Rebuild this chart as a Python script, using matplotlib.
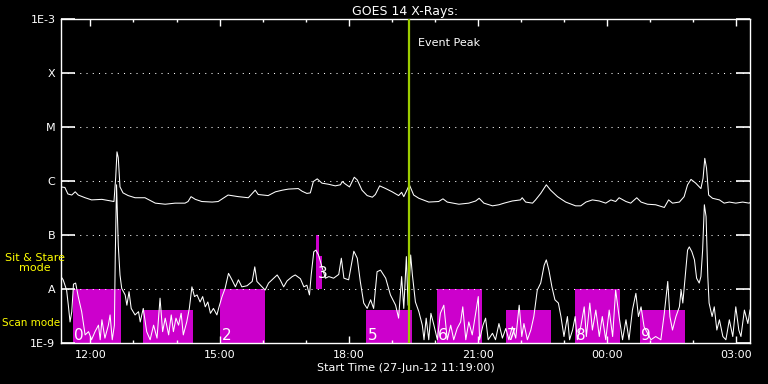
import numpy as np
import matplotlib
matplotlib.use("Agg")
from matplotlib import pyplot as plt
from matplotlib.ticker import FixedLocator, NullLocator

# hours since start (27-Jun-12 11:19:00) and log10 of flux (W/m^2)
long_t = [0, 0.09, 0.16, 0.25, 0.33, 0.40, 0.56, 0.71, 0.95, 1.09, 1.23, 1.27, 1.30, 1.33, 1.37,
          1.44, 1.56, 1.72, 1.95, 2.19, 2.42, 2.65, 2.88, 2.95, 3.02, 3.12, 3.27, 3.51, 3.65, 3.88,
          4.12, 4.35, 4.51, 4.58, 4.81, 4.98, 5.14, 5.28, 5.51, 5.60, 5.71, 5.79, 5.86, 5.95, 6.06,
          6.21, 6.37, 6.49, 6.53, 6.61, 6.70, 6.81, 6.88, 6.99, 7.11, 7.23, 7.30, 7.40, 7.54, 7.69,
          7.84, 7.91, 7.96, 8.02, 8.09, 8.19, 8.31, 8.54, 8.77, 8.87, 8.97, 9.24, 9.47, 9.63, 9.71,
          9.82, 10.02, 10.17, 10.29, 10.48, 10.67, 10.71, 10.79, 10.95, 11.02, 11.14, 11.27, 11.37,
          11.53, 11.72, 11.95, 12.07, 12.19, 12.34, 12.50, 12.65, 12.77, 12.88, 12.96, 13.12, 13.23,
          13.37, 13.47, 13.62, 13.81, 14.01, 14.11, 14.20, 14.36, 14.47, 14.55, 14.63, 14.74, 14.86,
          14.91, 14.95, 14.99, 15.04, 15.13, 15.29, 15.40, 15.52, 15.67, 15.83, 15.98, 16.0]
long_exp = [-6.11, -6.12, -6.24, -6.26, -6.20, -6.26, -6.31, -6.35, -6.34, -6.36, -6.38, -5.94, -5.46,
            -5.57, -6.11, -6.22, -6.27, -6.31, -6.31, -6.41, -6.43, -6.41, -6.41, -6.38, -6.29, -6.34,
            -6.38, -6.39, -6.38, -6.26, -6.29, -6.31, -6.17, -6.25, -6.27, -6.20, -6.17, -6.15, -6.14,
            -6.19, -6.23, -6.22, -6.01, -5.96, -6.04, -6.06, -6.09, -6.07, -6.01, -6.06, -6.11, -5.93,
            -5.98, -6.17, -6.27, -6.30, -6.25, -6.09, -6.14, -6.20, -6.27, -6.21, -6.29, -6.19, -6.07,
            -6.26, -6.32, -6.39, -6.38, -6.33, -6.39, -6.43, -6.41, -6.37, -6.32, -6.41, -6.46, -6.44,
            -6.41, -6.37, -6.35, -6.31, -6.39, -6.41, -6.35, -6.23, -6.07, -6.17, -6.29, -6.39, -6.46,
            -6.46, -6.39, -6.35, -6.37, -6.41, -6.35, -6.38, -6.31, -6.38, -6.41, -6.31, -6.39, -6.43,
            -6.44, -6.49, -6.35, -6.41, -6.39, -6.29, -6.07, -5.97, -6.04, -6.14, -5.95, -5.58, -5.76,
            -6.26, -6.32, -6.35, -6.41, -6.39, -6.41, -6.39, -6.41, -6.40]

short_t = [0, 0.05, 0.13, 0.17, 0.21, 0.25, 0.29, 0.34, 0.40, 0.48, 0.56, 0.64, 0.71, 0.79, 0.87,
           0.91, 0.95, 1.02, 1.10, 1.14, 1.19, 1.24, 1.26, 1.29, 1.33, 1.37, 1.41, 1.49, 1.53, 1.58,
           1.63, 1.72, 1.80, 1.84, 1.91, 1.99, 2.07, 2.15, 2.23, 2.30, 2.36, 2.42, 2.50, 2.56, 2.61,
           2.67, 2.73, 2.79, 2.84, 2.92, 2.98, 3.04, 3.10, 3.16, 3.23, 3.29, 3.35, 3.41, 3.47, 3.54,
           3.62, 3.67, 3.74, 3.81, 3.89, 3.97, 4.05, 4.12, 4.20, 4.32, 4.44, 4.50, 4.55, 4.67, 4.74,
           4.82, 4.94, 5.02, 5.09, 5.17, 5.25, 5.37, 5.44, 5.56, 5.64, 5.71, 5.77, 5.81, 5.87, 5.92,
           5.98, 6.06, 6.14, 6.22, 6.33, 6.45, 6.51, 6.57, 6.68, 6.80, 6.88, 6.95, 7.03, 7.11, 7.19,
           7.26, 7.34, 7.42, 7.54, 7.65, 7.77, 7.84, 7.91, 7.96, 8.02, 8.06, 8.12, 8.16, 8.23, 8.31,
           8.39, 8.43, 8.48, 8.54, 8.59, 8.66, 8.74, 8.81, 8.89, 8.97, 9.05, 9.12, 9.20, 9.28, 9.33,
           9.40, 9.47, 9.55, 9.63, 9.69, 9.72, 9.80, 9.86, 9.92, 10.02, 10.09, 10.17, 10.25, 10.33,
           10.40, 10.48, 10.56, 10.64, 10.70, 10.75, 10.83, 10.91, 10.98, 11.06, 11.14, 11.22, 11.27,
           11.33, 11.40, 11.47, 11.55, 11.61, 11.68, 11.76, 11.81, 11.88, 11.94, 11.99, 12.07, 12.15,
           12.20, 12.28, 12.34, 12.42, 12.50, 12.57, 12.65, 12.73, 12.81, 12.88, 12.96, 13.04, 13.12,
           13.19, 13.27, 13.35, 13.41, 13.47, 13.54, 13.62, 13.70, 13.81, 13.93, 14.01, 14.09, 14.14,
           14.20, 14.28, 14.36, 14.40, 14.44, 14.50, 14.55, 14.59, 14.65, 14.71, 14.76, 14.82, 14.86,
           14.90, 14.94, 14.98, 15.02, 15.05, 15.12, 15.17, 15.23, 15.29, 15.37, 15.44, 15.52, 15.60,
           15.67, 15.74, 15.79, 15.87, 15.95, 16.0]
short_exp = [-7.77, -7.83, -8.02, -8.30, -8.61, -8.42, -7.91, -7.89, -8.14, -8.42, -8.85, -8.79, -8.94,
             -8.79, -8.67, -8.94, -8.57, -8.91, -8.67, -8.48, -8.94, -8.67, -7.40, -6.07, -7.19, -7.74,
             -7.99, -8.11, -8.30, -8.05, -8.36, -8.48, -8.42, -8.61, -8.36, -8.79, -8.94, -8.67, -8.91,
             -8.17, -8.79, -8.54, -8.85, -8.48, -8.79, -8.54, -8.67, -8.45, -8.85, -8.61, -8.36, -7.96,
             -8.14, -8.11, -8.24, -8.14, -8.33, -8.24, -8.45, -8.36, -8.48, -8.33, -8.14, -7.99, -7.71,
             -7.83, -7.96, -7.83, -7.96, -7.94, -7.86, -7.59, -7.86, -7.96, -8.02, -7.89, -7.80, -7.74,
             -7.83, -7.96, -7.85, -7.77, -7.74, -7.81, -7.96, -7.93, -8.11, -7.74, -7.31, -7.28, -7.37,
             -7.59, -7.80, -7.77, -7.80, -7.73, -7.43, -7.80, -7.83, -7.30, -7.43, -7.86, -8.26, -8.36,
             -8.20, -8.36, -7.68, -7.65, -7.80, -8.11, -8.30, -8.54, -7.77, -8.36, -7.40, -8.30, -7.37,
             -7.74, -8.24, -8.42, -8.67, -8.94, -8.54, -8.94, -8.45, -8.67, -8.94, -8.45, -8.30, -8.94,
             -8.67, -8.94, -8.73, -8.61, -8.33, -8.94, -8.61, -8.85, -8.45, -8.14, -8.94, -8.67, -8.54,
             -8.94, -8.82, -8.94, -8.64, -8.91, -8.73, -8.94, -8.70, -8.91, -8.30, -8.88, -8.64, -8.94,
             -8.76, -8.51, -8.02, -7.89, -7.56, -7.46, -7.65, -7.96, -8.20, -8.26, -8.51, -8.88, -8.51,
             -8.94, -8.76, -8.51, -8.94, -8.70, -8.33, -8.88, -8.26, -8.76, -8.39, -8.88, -8.51, -8.94,
             -8.39, -8.88, -8.02, -8.51, -8.94, -8.57, -8.94, -8.39, -8.08, -8.51, -8.33, -8.70, -8.82,
             -8.94, -8.88, -8.94, -8.45, -7.86, -8.51, -8.76, -8.51, -8.33, -8.02, -8.26, -7.73, -7.28,
             -7.22, -7.31, -7.46, -7.80, -7.89, -7.77, -7.28, -6.44, -6.66, -7.77, -8.26, -8.51, -8.33,
             -8.76, -8.57, -8.88, -8.94, -8.57, -8.88, -8.33, -8.76, -8.88, -8.39, -8.64, -8.39]

# observing mode blocks (hours since start, flux)
bar_start = [0.28, 1.91, 3.70, 5.93, 5.99, 7.09, 8.72, 10.33, 11.93, 13.45]
bar_end = [1.40, 3.07, 4.74, 5.99, 6.06, 8.16, 9.77, 11.37, 12.98, 14.49]
bar_bottom = [1e-9, 1e-9, 1e-9, 1e-8, 1e-8, 1e-9, 1e-9, 1e-9, 1e-9, 1e-9]
bar_top = [1e-8, 4.1e-9, 1e-8, 1e-7, 4.1e-8, 4.1e-9, 1e-8, 4.1e-9, 1e-8, 4.1e-9]
bar_label = ['0', '', '2', '3', '', '5', '6', '7', '8', '9']

event_peak = 8.07
level_vals = [1e-9, 1e-8, 1e-7, 1e-6, 1e-5, 1e-4, 1e-3]
level_names = ['1E-9', 'A', 'B', 'C', 'M', 'X', '1E-3']
hour_labels = ['12:00', '15:00', '18:00', '21:00', '00:00', '03:00']

fig = plt.figure(figsize=(7.68, 3.84), dpi=100, facecolor='black')
ax = fig.add_axes([61 / 768, 41 / 384, 689 / 768, 324 / 384])
ax.set_facecolor('black')
ax.set_yscale('log')
ax.set_xlim(0, 16)
ax.set_ylim(1e-9, 1e-3)

for s, e, b, t, lab in zip(bar_start, bar_end, bar_bottom, bar_top, bar_label):
    ax.bar(s, t - b, bottom=b, width=e - s, align='edge', color='#cc00cc', lw=0, zorder=1)
    if lab:
        ly = 1.15e-9 if b < 5e-9 else 1.6e-8
        ax.text(s + 0.03, ly, lab, color='white', fontsize=11, ha='left', va='baseline', zorder=4)

ax.hlines(level_vals[1:-1], 0, 16, colors='white', lw=0.75, linestyles=(0, (1, 5)), zorder=2)

ax.plot(long_t, 10.0 ** np.array(long_exp), color='white', lw=0.75, zorder=3)
ax.plot(short_t, 10.0 ** np.array(short_exp), color='white', lw=0.75, zorder=3)

ax.axvline(event_peak, color='#9ccc00', lw=1.6, zorder=5)
ax.text(event_peak + 0.23, 10 ** -3.44, 'Event Peak', color='white', fontsize=8, va='center')

ax.yaxis.set_major_locator(FixedLocator(level_vals))
ax.yaxis.set_minor_locator(NullLocator())
ax.set_yticklabels(level_names)
ax.tick_params(axis='y', which='major', direction='in', length=10, width=1.2,
               colors='white', right=True, labelsize=8, pad=4)

first_hour = 41 / 60
ax.xaxis.set_major_locator(FixedLocator([first_hour + 3 * k for k in range(6)]))
ax.xaxis.set_minor_locator(FixedLocator([first_hour + k for k in range(16)]))
ax.set_xticklabels(hour_labels)
ax.tick_params(axis='x', which='major', direction='in', length=5, width=1,
               colors='white', top=True, labelsize=8, pad=5)
ax.tick_params(axis='x', which='minor', direction='in', length=2.5, width=1,
               colors='white', top=True)

for sp in ax.spines.values():
    sp.set_color('white')
    sp.set_linewidth(1)

ax.set_title('GOES 14 X-Rays:', color='white', fontsize=9, pad=3)
ax.set_xlabel('Start Time (27-Jun-12 11:19:00)', color='white', fontsize=8, labelpad=2)

fig.text(35 / 768, 1 - 263 / 384, 'Sit & Stare\nmode', color='yellow', fontsize=8,
         ha='center', va='center', linespacing=1.1)
fig.text(2 / 768, 1 - 323 / 384, 'Scan mode', color='yellow', fontsize=7.5,
         ha='left', va='center')

fig.savefig('out.png', dpi=100, facecolor='black')
